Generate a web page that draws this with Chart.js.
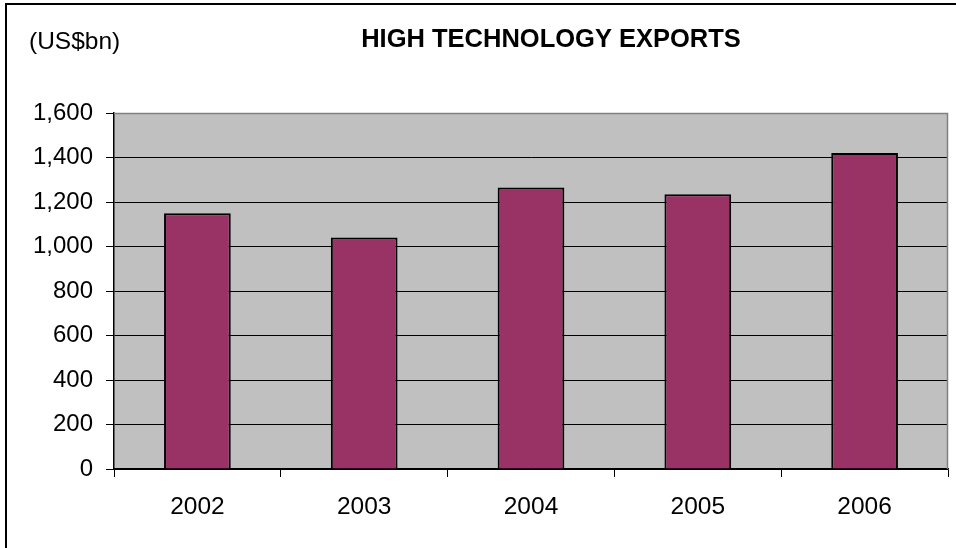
<!DOCTYPE html>
<html>
<head>
<meta charset="utf-8">
<script src="https://cdn.jsdelivr.net/npm/chart.js@4/dist/chart.umd.min.js"></script>
<style>
  html, body { margin: 0; padding: 0; background: #fff; }
  #wrap { width: 956px; height: 548px; position: relative; }
</style>
</head>
<body>
<div id="wrap"><canvas id="chart" width="956" height="548"></canvas></div>
<script>
// High technology exports, US$ billions
const years = ['2002', '2003', '2004', '2005', '2006'];
const exportsBn = [1150, 1040, 1265, 1235, 1420];
const yTicks = [0, 200, 400, 600, 800, 1000, 1200, 1400, 1600];
const titleText = 'HIGH TECHNOLOGY EXPORTS';
const unitText = '(US$bn)';

const FONT = '"Liberation Sans", Arial, sans-serif';

const frame = {
  id: 'frame',
  beforeDraw(chart) {
    const { ctx, chartArea: a } = chart;
    ctx.save();
    ctx.fillStyle = '#C0C0C0';
    ctx.fillRect(a.left, a.top, a.right - a.left, a.bottom - a.top);
    ctx.restore();
  },
  afterDraw(chart) {
    const { ctx, chartArea: a } = chart;
    ctx.save();
    // plot-area border on top and right
    ctx.strokeStyle = '#808080';
    ctx.lineWidth = 1.5;
    ctx.beginPath();
    ctx.moveTo(a.left, a.top + 0.5);
    ctx.lineTo(a.right - 0.5, a.top + 0.5);
    ctx.lineTo(a.right - 0.5, a.bottom);
    ctx.stroke();
    // outer frame (top and left edges)
    ctx.fillStyle = '#000';
    ctx.fillRect(5, 3, 951, 2);
    ctx.fillRect(5, 3, 2, 545);
    // title and unit
    ctx.fillStyle = '#000';
    ctx.textBaseline = 'alphabetic';
    ctx.font = 'bold 25.5px ' + FONT;
    ctx.textAlign = 'center';
    ctx.fillText(titleText, 551, 47);
    ctx.font = '24.5px ' + FONT;
    ctx.textAlign = 'left';
    ctx.fillText(unitText, 29, 49);
    ctx.restore();
  }
};

new Chart(document.getElementById('chart'), {
  type: 'bar',
  data: {
    labels: years,
    datasets: [{
      data: exportsBn,
      backgroundColor: '#993366',
      borderColor: '#000000',
      borderWidth: 2,
      borderSkipped: 'start',
      barPercentage: 0.4,
      categoryPercentage: 1.0
    }]
  },
  options: {
    responsive: false,
    animation: false,
    devicePixelRatio: 1,
    layout: { padding: { top: 113, right: 8, left: 0, bottom: 0 } },
    plugins: {
      legend: { display: false },
      title: { display: false },
      tooltip: { enabled: false }
    },
    scales: {
      x: {
        offset: true,
        grid: {
          offset: true,
          drawOnChartArea: false,
          drawTicks: true,
          tickLength: 8,
          color: '#000',
          tickColor: '#000'
        },
        border: { color: '#000', width: 1.5 },
        ticks: {
          color: '#000',
          font: { family: FONT, size: 24.5 },
          padding: 16,
          maxRotation: 0
        },
        afterFit(axis) { axis.height = 79; }
      },
      y: {
        min: 0,
        max: 1600,
        afterBuildTicks(axis) { axis.ticks = yTicks.map(v => ({ value: v })); },
        grid: {
          color: ctx => (ctx.tick && ctx.tick.value === 1600) ? 'rgba(0,0,0,0)' : '#000',
          tickColor: '#000',
          lineWidth: 1,
          tickLength: 8
        },
        border: { color: '#000', width: 1.5 },
        ticks: {
          color: '#000',
          font: { family: FONT, size: 24 },
          padding: 13,
          callback: v => v.toLocaleString('en-US')
        },
        afterFit(axis) { axis.width = 114; }
      }
    }
  },
  plugins: [frame]
});
</script>
</body>
</html>
